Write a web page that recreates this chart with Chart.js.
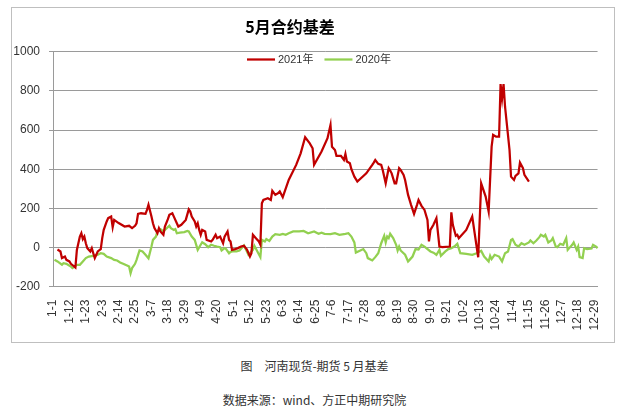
<!DOCTYPE html>
<html><head><meta charset="utf-8">
<script src="https://cdn.jsdelivr.net/npm/chart.js@4.4.0/dist/chart.umd.min.js"></script>
<style>
html,body{margin:0;padding:0;background:#fff;width:629px;height:410px;overflow:hidden;}
#box{position:absolute;left:11px;top:7px;width:604px;height:336px;border:1px solid #BFBFBF;box-sizing:border-box;}
#c{position:absolute;left:0;top:0;}
.cap{position:absolute;left:0;width:629px;text-align:center;font-family:"Noto Sans CJK SC",sans-serif;font-size:12px;color:#333;line-height:16px;}
</style></head><body>
<div id="box"><canvas id="c" width="602" height="334"></canvas></div>
<div class="cap" style="top:358px">图　河南现货-期货 5 月基差</div>
<div class="cap" style="top:392px">数据来源：wind、方正中期研究院</div>
<script>
// ---- data ----
const chartTitle = '5月合约基差';
const seriesNames = ['2021年', '2020年'];
const monthDays = [31,29,31,30,31,30,31,31,30,31,30,31];
const xTickLabels = ['1-1','1-12','1-23','2-3','2-14','2-25','3-7','3-18','3-29','4-9','4-20','5-1','5-12','5-23','6-3','6-14','6-25','7-6','7-17','7-28','8-8','8-19','8-30','9-10','9-21','10-2','10-13','10-24','11-4','11-15','11-26','12-7','12-18','12-29'];
const yTicks = [-200, 0, 200, 400, 600, 800, 1000];

const dates2021 = ['1-4','1-6','1-7','1-9','1-10','1-12','1-13','1-16','1-17','1-19','1-20','1-21','1-22','1-23','1-24','1-26','1-27','1-28','1-29','1-31',
'2-2','2-3','2-4','2-6','2-7','2-9','2-10','2-11','2-14','2-18','2-21','2-23','2-25','2-26','2-27','2-29',
'3-3','3-4','3-5','3-7','3-8','3-9','3-11','3-12','3-13','3-15','3-16','3-18','3-19','3-21','3-22','3-24','3-25','3-27','3-30',
'4-1','4-2','4-3','4-5','4-6','4-7','4-8','4-9','4-10','4-12','4-13','4-16','4-17','4-19','4-20','4-22','4-23','4-24','4-25','4-27','4-28','4-29','4-30',
'5-2','5-4','5-6','5-8','5-10','5-12','5-13','5-14','5-16','5-18','5-19','5-20','5-21','5-24','5-26','5-27','5-29','5-31',
'6-1','6-3','6-7','6-12','6-15','6-18','6-21','6-23','6-24','6-29',
'7-3','7-5','7-6','7-8','7-9','7-12','7-14','7-15','7-16','7-18','7-19','7-21','7-23','7-29',
'8-2','8-3','8-4','8-6','8-8','8-9','8-11','8-13','8-14','8-15','8-17','8-18','8-20','8-21','8-23','8-24','8-26','8-28','8-30',
'9-1','9-2','9-4','9-6','9-8','9-9','9-10','9-12','9-14','9-16','9-18','9-23','9-24','9-25','9-27','9-28','9-29',
'10-4','10-8','10-12','10-14','10-17','10-19','10-21','10-22','10-24','10-26','10-27','10-28','10-29','10-30',
'11-2','11-3','11-5','11-6','11-8','11-9','11-11','11-12','11-15'];
const values2021 = [-10,-20,-54,-46,-63,-71,-83,-102,-12,56,73,43,56,22,-3,-20,-3,-29,-54,-20,
-8,48,90,133,150,158,104,141,125,107,111,99,111,124,172,175,
172,192,218,158,124,99,73,99,82,65,107,145,167,175,158,124,107,116,141,
195,184,158,133,107,124,90,65,90,82,39,31,39,65,48,56,39,22,56,82,39,31,-12,
-8,-3,5,9,-10,-46,-29,65,48,31,15,226,243,252,243,290,269,278,
286,257,345,422,481,563,533,507,422,490,
558,626,515,498,468,468,447,478,439,430,400,362,337,379,
422,434,447,427,422,396,328,405,393,379,328,328,405,396,371,345,269,218,172,
218,243,213,192,141,31,90,116,150,5,2,5,180,116,60,65,48,
90,158,-50,328,260,184,515,575,566,566,835,762,835,719,
498,362,345,366,379,434,405,371,337];

const dates2020 = ['1-2','1-4','1-7','1-8','1-10','1-11','1-13','1-14','1-15','1-17','1-19','1-21','1-23','1-25','1-29','1-31',
'2-2','2-4','2-6','2-9','2-11','2-13','2-15','2-17','2-20','2-21','2-22','2-23','2-25','2-26','2-28',
'3-1','3-3','3-5','3-7','3-8','3-10','3-11','3-13','3-15','3-16','3-19','3-20','3-22','3-23','3-24','3-26','3-29','3-31',
'4-1','4-3','4-5','4-7','4-9','4-10','4-12','4-14','4-16','4-18','4-20','4-22','4-23','4-25','4-26','4-28','4-29',
'5-1','5-3','5-5','5-8','5-10','5-11','5-14','5-15','5-17','5-19','5-20','5-22','5-23','5-25','5-27','5-29',
'6-1','6-3','6-5','6-7','6-10','6-14','6-17','6-20','6-24','6-27','6-29',
'7-1','7-5','7-8','7-11','7-15','7-17','7-19','7-21','7-22','7-25','7-27','7-29','7-30',
'8-2','8-4','8-6','8-8','8-10','8-11','8-12','8-13','8-14','8-16','8-18','8-19','8-20','8-21','8-24','8-26','8-27','8-29','8-31',
'9-2','9-4','9-6','9-10','9-12','9-14','9-16','9-17','9-20','9-22','9-24','9-26','9-28','9-30',
'10-4','10-8','10-11','10-14','10-16','10-19','10-20','10-21','10-23','10-26','10-28','10-30',
'11-1','11-3','11-4','11-6','11-8','11-10','11-12','11-15','11-16','11-18','11-20','11-22','11-23','11-25','11-26','11-28','11-30',
'12-1','12-3','12-4','12-6','12-8','12-10','12-11','12-12','12-14','12-15','12-17','12-18','12-19','12-21','12-22','12-24','12-27','12-28','12-30','12-31'];
const values2020 = [-63,-71,-88,-80,-83,-88,-97,-105,-100,-88,-88,-71,-54,-46,-41,-37,
-29,-32,-46,-54,-63,-66,-76,-83,-93,-97,-131,-105,-83,-63,-15,
-20,-37,-55,5,39,56,82,94,82,90,111,99,90,94,73,76,79,85,
82,56,39,-12,14,27,17,2,14,9,5,2,-15,-3,-8,-29,-22,
-18,-20,-15,10,-20,-37,-12,9,-20,-49,39,31,43,34,56,68,
65,70,65,73,82,82,85,73,82,70,76,
70,68,73,65,70,73,56,26,-26,-15,-8,-29,-54,
-66,-49,-29,22,60,26,56,48,70,48,14,-15,5,-15,-37,-71,-63,-46,-8,
-10,14,5,-20,-26,-37,-12,-42,-20,-8,-3,5,19,-29,
-32,-37,-29,-17,-46,-71,-42,-59,-37,-46,-71,-29,
-20,39,43,14,5,22,14,26,36,22,36,53,65,56,65,26,36,
48,5,2,19,14,48,-12,-3,14,26,-12,5,-49,-54,-3,-8,-5,14,5,-3];

// ---- build categories ----
const days = [];
monthDays.forEach((n, m) => { for (let d = 1; d <= n; d++) days.push((m + 1) + '-' + d); });
function place(ds, vs) {
  const arr = new Array(days.length).fill(null);
  ds.forEach((d, i) => { arr[days.indexOf(d)] = vs[i]; });
  return arr;
}
const tickSet = new Set(xTickLabels);
const FONT = "'Liberation Sans','Noto Sans CJK SC',sans-serif";

const inlineLegend = {
  id: 'inlineLegend',
  afterDraw(chart, args, o) {
    const ctx = chart.ctx;
    ctx.save();
    ctx.font = o.font;
    ctx.textBaseline = 'middle';
    let x = o.x;
    chart.data.datasets.forEach(ds => {
      ctx.strokeStyle = ds.borderColor;
      ctx.lineWidth = ds.borderWidth;
      ctx.beginPath(); ctx.moveTo(x, o.y); ctx.lineTo(x + o.lineLen, o.y); ctx.stroke();
      ctx.fillStyle = o.color;
      ctx.fillText(ds.label, x + o.lineLen + o.gap, o.y + 0.5);
      x += o.lineLen + o.gap + ctx.measureText(ds.label).width + o.spacing;
    });
    ctx.restore();
  }
};
const titleShift = {
  id: 'titleShift',
  afterLayout(chart, args, o) {
    const t = chart.titleBlock;
    if (!t) return;
    const w = t.right - t.left;
    t.left = o.center - w / 2;
    t.right = o.center + w / 2;
  }
};

new Chart(document.getElementById('c'), {
  type: 'line',
  data: {
    labels: days,
    datasets: [
      { label: seriesNames[0], data: place(dates2021, values2021), borderColor: '#C00000', backgroundColor: '#C00000', borderWidth: 2.25, pointRadius: 0, spanGaps: true, tension: 0 },
      { label: seriesNames[1], data: place(dates2020, values2020), borderColor: '#92D050', backgroundColor: '#92D050', borderWidth: 2.25, pointRadius: 0, spanGaps: true, tension: 0 }
    ]
  },
  options: {
    responsive: false,
    animation: false,
    layout: { padding: { left: 0, right: 6.7, top: 0, bottom: 0 } },
    plugins: {
      legend: { display: false },
      tooltip: { enabled: false },
      title: { display: true, text: chartTitle, color: '#000', font: { family: "'Noto Sans CJK SC',sans-serif", size: 16, weight: 'bold' }, padding: { top: 9, bottom: 15.5 } },
      titleShift: { center: 278 },
      inlineLegend: { x: 235, y: 51.5, lineLen: 28, gap: 3, spacing: 11, font: "11px " + FONT, color: '#333' }
    },
    scales: {
      x: {
        type: 'category',
        offset: false,
        grid: { display: false },
        border: { display: true, color: '#9A9A9A' },
        ticks: {
          autoSkip: false, maxRotation: 90, minRotation: 90, padding: 5,
          color: '#333', font: { family: FONT, size: 12 },
          callback: function (v, i) { const l = days[i]; return tickSet.has(l) ? l : null; }
        },
        afterFit: s => { s.height = 55.3; }
      },
      y: {
        min: -200, max: 1000,
        afterBuildTicks: s => { s.ticks = yTicks.map(v => ({ value: v })); },
        grid: { color: '#9A9A9A', lineWidth: 1, tickLength: 4, drawTicks: true },
        border: { display: true, color: '#9A9A9A' },
        ticks: { padding: 9, color: '#333', font: { family: FONT, size: 12 }, callback: v => String(v) },
        afterFit: s => { s.width = 41; }
      }
    }
  },
  plugins: [inlineLegend, titleShift]
});
</script>
</body></html>
